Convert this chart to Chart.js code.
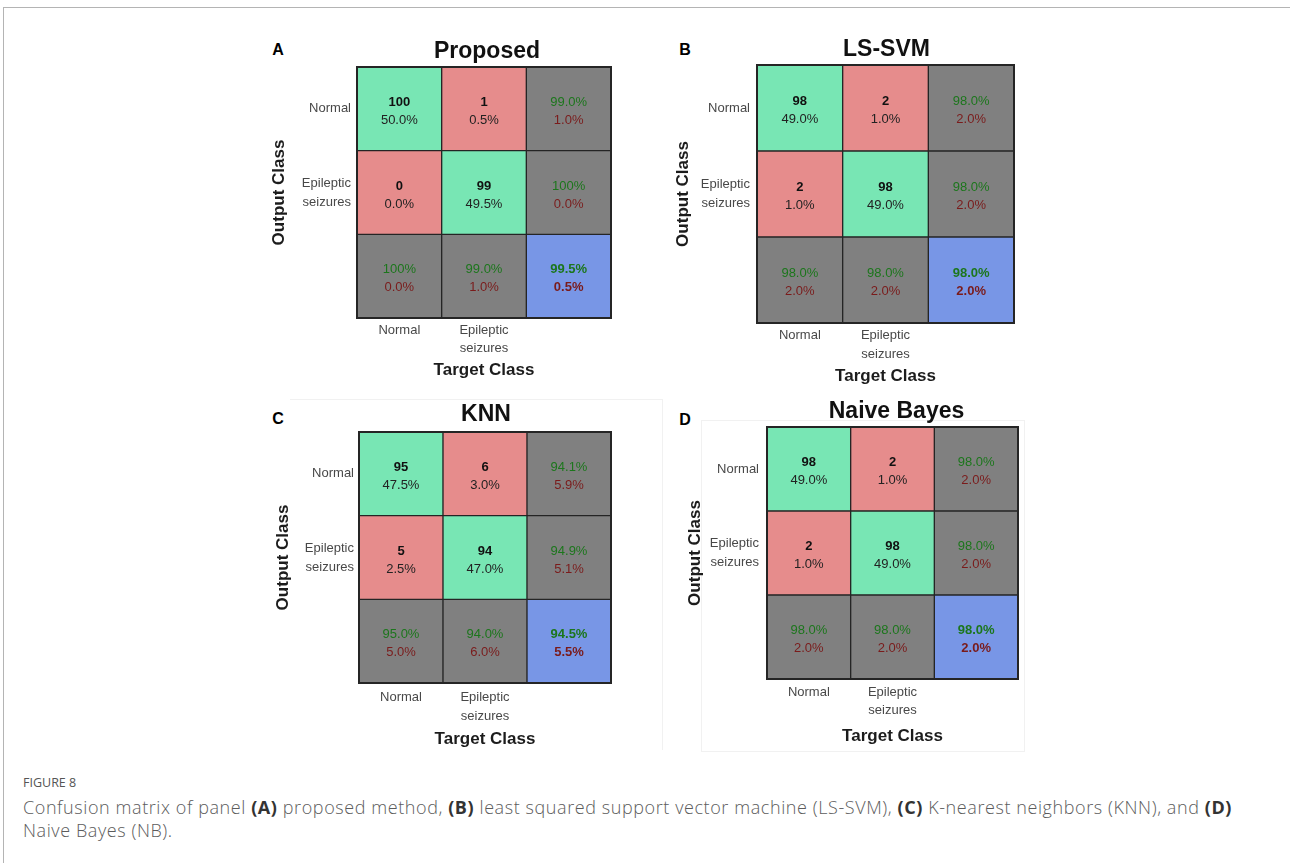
<!DOCTYPE html>
<html>
<head>
<meta charset="utf-8">
<title>Figure 8 – Confusion matrices</title>
<script src="https://cdn.jsdelivr.net/npm/chart.js@4.4.1/dist/chart.umd.min.js"></script>
<style>
  html, body { margin: 0; padding: 0; background: #fff; }
  body { width: 1290px; height: 863px; position: relative; overflow: hidden; font-family: "Liberation Sans", Arial, sans-serif; }
  .frame-top { position: absolute; left: 3px; top: 7px; right: 0; border-top: 1px solid #b4b4b4; }
  .frame-left { position: absolute; left: 3px; top: 7px; bottom: 0; border-left: 1px solid #b4b4b4; }
  .faint { position: absolute; border-color: #f1f1f1; border-style: solid; border-width: 0; }
  .panel { position: absolute; }
  .letter { position: absolute; font: bold 16px "Liberation Sans", Arial, sans-serif; color: #000; transform: translate(-50%, -50%); }
  .fig-label { position: absolute; left: 23px; top: 774px; font: 12.5px "Open Sans", sans-serif; color: #555; }
  .caption { position: absolute; left: 23px; top: 796px; font: 300 18px/23px "Open Sans", sans-serif; color: #5c5c5c; white-space: nowrap; }
  .caption span { display: inline-block; }
  .caption b { color: #333; font-weight: 700; }
</style>
</head>
<body>
<div class="frame-top"></div>
<div class="frame-left"></div>
<div class="faint" style="left:290px; top:399px; width:372px; border-top-width:1px;"></div>
<div class="faint" style="left:662px; top:399px; height:351px; border-left-width:1px;"></div>
<div class="faint" style="left:701px; top:420px; width:322px; height:330px; border-width:1px;"></div>

<div class="letter" style="left:278px; top:50px;">A</div>
<div class="letter" style="left:685px; top:50px;">B</div>
<div class="letter" style="left:278px; top:419px;">C</div>
<div class="letter" style="left:685px; top:420px;">D</div>

<div class="panel" id="panelA"><canvas id="cmA"></canvas></div>
<div class="panel" id="panelB"><canvas id="cmB"></canvas></div>
<div class="panel" id="panelC"><canvas id="cmC"></canvas></div>
<div class="panel" id="panelD"><canvas id="cmD"></canvas></div>

<div class="fig-label">FIGURE 8</div>
<div class="caption" id="caption"><span id="capLine1">Confusion matrix of panel <b>(A)</b> proposed method, <b>(B)</b> least squared support vector machine (LS-SVM), <b>(C)</b> K-nearest neighbors (KNN), and <b>(D)</b></span><br><span id="capLine2">Naive Bayes (NB).</span></div>

<script>
// Class names (rows = output class, columns = target class)
const classLabels = [['Normal'], ['Epileptic', 'seizures']];

// Model titles, one per panel
const modelNames = ['Proposed', 'LS-SVM', 'KNN', 'Naive Bayes'];

// Confusion counts: [[out Normal / tgt Normal, out Normal / tgt Epileptic],
//                    [out Epileptic / tgt Normal, out Epileptic / tgt Epileptic]]
const proposedCounts   = [[100, 1], [0, 99]];
const lssvmCounts      = [[98, 2], [2, 98]];
const knnCounts        = [[95, 6], [5, 94]];
const naiveBayesCounts = [[98, 2], [2, 98]];

const FONT = '"Liberation Sans", Arial, sans-serif';
const COLORS = {
  correct: 'rgb(120,230,180)',
  wrong: 'rgb(230,140,140)',
  summary: 'rgb(128,128,128)',
  overall: 'rgb(120,150,230)',
  border: '#252525',
  goodText: '#1c761c',
  badText: '#7a1b1b'
};

// Placement of each panel's grid on the page
const panelLayout = [
  { id: 'A', left: 357, top: 67,  width: 254, height: 251, yTitleGap: 78, yTickPad: 6, xTickGap: 12.0, xTitleGap: 52.0, titleGap: 15.3, titleShift: 3 },
  { id: 'B', left: 757, top: 65,  width: 257, height: 258, yTitleGap: 74, yTickPad: 7, xTickGap: 12.7, xTitleGap: 53.7, titleGap: 15.0, titleShift: 1 },
  { id: 'C', left: 359, top: 432, width: 252, height: 251, yTitleGap: 76, yTickPad: 5, xTickGap: 14.2, xTitleGap: 56.7, titleGap: 17.3, titleShift: 1 },
  { id: 'D', left: 767, top: 427, width: 251, height: 252, yTitleGap: 72, yTickPad: 8, xTickGap: 13.0, xTitleGap: 57.7, titleGap: 15.6, titleShift: 4 }
];

const Y_AXIS_W = 90;   // width reserved for row labels + axis title
const X_AXIS_H = 72;   // height reserved for column labels + axis title
const TOP_PAD = 40;    // room for the model title
const RIGHT_PAD = 12;
const CAPTION_WIDTH = 1209;

// Spread the caption's first line over the text column width
(function fitCaption() {
  const line1 = document.getElementById('capLine1');
  const line2 = document.getElementById('capLine2');
  const natural = line1.getBoundingClientRect().width;
  const chars = line1.textContent.length;
  const spacing = Math.max(0, (CAPTION_WIDTH - natural) / chars);
  line1.style.letterSpacing = spacing + 'px';
  line2.style.letterSpacing = spacing + 'px';
})();

function pct(fraction) {
  const p = fraction * 100;
  if (Math.abs(p - 100) < 1e-9) return '100%';
  return p.toFixed(1) + '%';
}

// Text lines of cell (r, c) of the 3x3 plot: 2x2 counts + summary row / column
function cellLines(counts, r, c) {
  const total = counts[0][0] + counts[0][1] + counts[1][0] + counts[1][1];
  const regular = '13px ' + FONT;
  const bold = 'bold 13px ' + FONT;
  if (r < 2 && c < 2) {
    return [
      { text: String(counts[r][c]), font: bold, color: '#111' },
      { text: pct(counts[r][c] / total), font: regular, color: '#222' }
    ];
  }
  let good;
  if (r < 2) {
    good = counts[r][r] / (counts[r][0] + counts[r][1]);
  } else if (c < 2) {
    good = counts[c][c] / (counts[0][c] + counts[1][c]);
  } else {
    good = (counts[0][0] + counts[1][1]) / total;
  }
  const f = (r === 2 && c === 2) ? bold : regular;
  return [
    { text: pct(good), font: f, color: COLORS.goodText },
    { text: pct(1 - good), font: f, color: COLORS.badText }
  ];
}

function cellColor(r, c) {
  if (r < 2 && c < 2) return r === c ? COLORS.correct : COLORS.wrong;
  if (r === 2 && c === 2) return COLORS.overall;
  return COLORS.summary;
}

// Draws cell texts, outer frame and the model title
const matrixDecor = {
  id: 'matrixDecor',
  afterDatasetsDraw(chart, args, opts) {
    const ctx = chart.ctx;
    const area = chart.chartArea;
    ctx.save();
    ctx.textAlign = 'center';
    ctx.textBaseline = 'middle';
    chart.data.datasets.forEach((ds, di) => {
      const r = 2 - di;
      chart.getDatasetMeta(di).data.forEach((el, c) => {
        const cx = el.x;
        const cy = (el.y + el.base) / 2;
        const lines = cellLines(opts.counts, r, c);
        ctx.font = lines[0].font;
        ctx.fillStyle = lines[0].color;
        ctx.fillText(lines[0].text, cx, cy - 6.5);
        ctx.font = lines[1].font;
        ctx.fillStyle = lines[1].color;
        ctx.fillText(lines[1].text, cx, cy + 11.5);
      });
    });
    ctx.strokeStyle = COLORS.border;
    ctx.lineWidth = 2;
    ctx.strokeRect(area.left, area.top, area.right - area.left, area.bottom - area.top);
    ctx.font = 'bold 23px ' + FONT;
    ctx.fillStyle = '#111';
    ctx.fillText(opts.title, (area.left + area.right) / 2 + opts.titleShift, area.top - opts.titleGap);
    ctx.restore();
  }
};

const allCounts = [proposedCounts, lssvmCounts, knnCounts, naiveBayesCounts];

panelLayout.forEach((box, p) => {
  const holder = document.getElementById('panel' + box.id);
  holder.style.left = (box.left - Y_AXIS_W) + 'px';
  holder.style.top = (box.top - TOP_PAD) + 'px';
  holder.style.width = (Y_AXIS_W + box.width + RIGHT_PAD) + 'px';
  holder.style.height = (TOP_PAD + box.height + X_AXIS_H) + 'px';

  const counts = allCounts[p];
  // stacked from the bottom: summary row, Epileptic row, Normal row
  const datasets = [2, 1, 0].map(r => ({
    label: r === 2 ? 'Summary' : classLabels[r].join(' '),
    data: [1, 1, 1],
    backgroundColor: [0, 1, 2].map(c => cellColor(r, c)),
    borderColor: COLORS.border,
    borderWidth: 1,
    borderSkipped: false,
    barPercentage: 1,
    categoryPercentage: 1
  }));

  const tickLineH = 1.45;
  new Chart(document.getElementById('cm' + box.id), {
    type: 'bar',
    data: {
      labels: [classLabels[0], classLabels[1], ''],
      datasets
    },
    options: {
      responsive: true,
      maintainAspectRatio: false,
      animation: false,
      events: [],
      layout: { padding: { left: 0, right: RIGHT_PAD, top: TOP_PAD, bottom: 0 } },
      plugins: {
        legend: { display: false },
        tooltip: { enabled: false },
        matrixDecor: {
          counts,
          title: modelNames[p],
          titleGap: box.titleGap,
          titleShift: box.titleShift
        }
      },
      scales: {
        x: {
          type: 'category',
          stacked: true,
          grid: { display: false, drawTicks: false },
          border: { display: false },
          ticks: {
            padding: box.xTickGap - 13 * tickLineH / 2,
            maxRotation: 0,
            autoSkip: false,
            color: '#484848',
            font: { family: FONT, size: 13, lineHeight: tickLineH }
          },
          title: {
            display: true,
            text: 'Target Class',
            color: '#1c1c1c',
            font: { family: FONT, size: 17, weight: 'bold', lineHeight: 1.2 },
            padding: { top: 0, bottom: X_AXIS_H - 10.2 - box.xTitleGap }
          },
          afterFit(scale) { scale.height = X_AXIS_H; }
        },
        y: {
          type: 'linear',
          stacked: true,
          min: 0,
          max: 3,
          grid: { display: false, drawTicks: false },
          border: { display: false },
          afterBuildTicks(scale) {
            scale.ticks = [{ value: 2.5 }, { value: 1.5 }];
          },
          ticks: {
            padding: box.yTickPad,
            autoSkip: false,
            color: '#484848',
            font: { family: FONT, size: 13, lineHeight: tickLineH },
            callback: (value, index) => classLabels[index]
          },
          title: {
            display: true,
            text: 'Output Class',
            color: '#1c1c1c',
            font: { family: FONT, size: 17, weight: 'bold', lineHeight: 1.2 },
            padding: { top: Y_AXIS_W - 10.2 - box.yTitleGap, bottom: 0 }
          },
          afterFit(scale) { scale.width = Y_AXIS_W; }
        }
      }
    },
    plugins: [matrixDecor]
  });
});
</script>
</body>
</html>
